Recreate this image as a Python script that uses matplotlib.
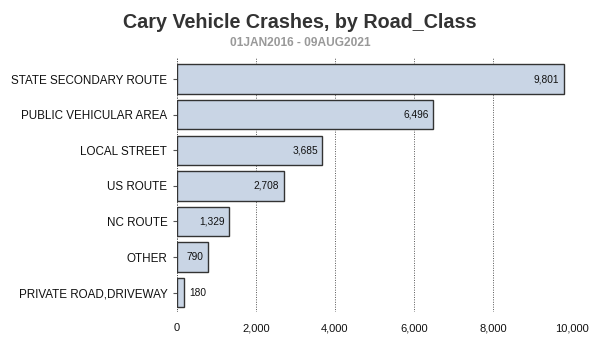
import matplotlib
matplotlib.use("Agg")
import matplotlib.pyplot as plt
from matplotlib.ticker import FuncFormatter

road_class = ["STATE SECONDARY ROUTE", "PUBLIC VEHICULAR AREA", "LOCAL STREET",
              "US ROUTE", "NC ROUTE", "OTHER", "PRIVATE ROAD,DRIVEWAY"]
crashes = [9801, 6496, 3685, 2708, 1329, 790, 180]
x_ticks = [0, 2000, 4000, 6000, 8000, 10000]

plt.rcParams["font.family"] = ["Liberation Sans", "DejaVu Sans"]

fig = plt.figure(figsize=(6, 3.5), dpi=100)
ax = fig.add_axes([0.295, 0.108, 0.658, 0.727])

ypos = list(range(len(road_class)))
ax.barh(ypos, crashes, height=0.83, color="#c9d5e5", edgecolor="#333333", linewidth=1.0, zorder=3)
ax.set_yticks(ypos)
ax.set_yticklabels(road_class, fontsize=8.4, color="#111111")
ax.set_ylim(len(road_class) - 0.45, -0.6)
ax.set_xlim(0, 10000)
ax.set_xticks(x_ticks)
ax.xaxis.set_major_formatter(FuncFormatter(lambda v, p: f"{int(v):,}"))
ax.tick_params(axis="x", labelsize=8, length=0, pad=8, colors="#111111")
ax.tick_params(axis="y", length=3, width=0.8, color="#555555", pad=4)
for s in ax.spines.values():
    s.set_visible(False)
ax.grid(axis="x", linestyle=(0, (1, 1.5)), color="#555555", linewidth=0.7, zorder=0)
ax.axvline(0, linestyle=(0, (1, 1.5)), color="#555555", linewidth=0.7, zorder=0)

# value labels: inside the bar when there is room, else just past the end
for y, v in zip(ypos, crashes):
    if v > 500:
        ax.text(v - 120, y, f"{v:,}", ha="right", va="center", fontsize=7.3, color="#111111", zorder=4)
    else:
        ax.text(v + 120, y, f"{v:,}", ha="left", va="center", fontsize=7.3, color="#111111", zorder=4)

fig.text(0.5, 0.935, "Cary Vehicle Crashes, by Road_Class", ha="center", va="center",
         fontsize=14.2, fontweight="bold", color="#333333")
fig.text(0.5, 0.877, "01JAN2016 - 09AUG2021", ha="center", va="center",
         fontsize=8.6, fontweight="bold", color="#999999")

fig.savefig("out.png", dpi=100)
